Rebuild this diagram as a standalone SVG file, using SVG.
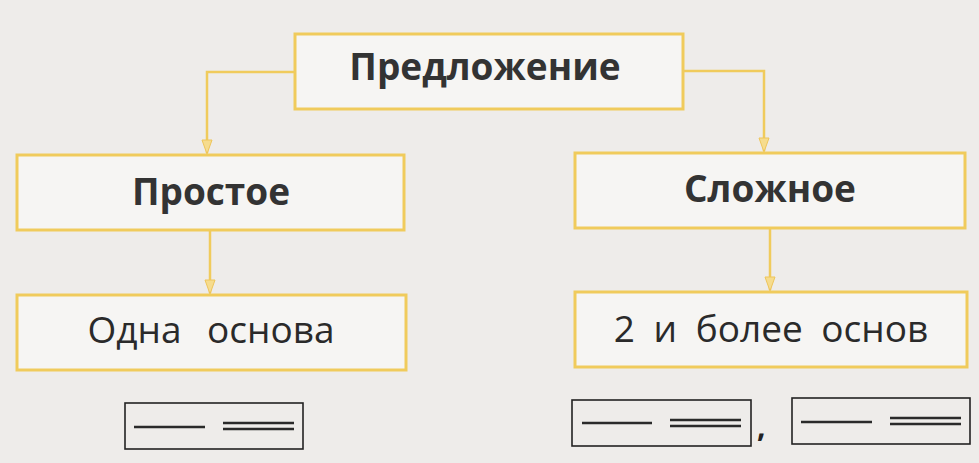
<svg xmlns="http://www.w3.org/2000/svg" width="979" height="463" viewBox="0 0 979 463">
<defs>
<marker id="arr" markerWidth="16" markerHeight="12" refX="14" refY="6" orient="auto" markerUnits="userSpaceOnUse" viewBox="0 0 16 12">
<path d="M1,1 L15,6 L1,11 Z" fill="#f6dc8e" stroke="#eec55a" stroke-width="1"/>
</marker>
<style>
.box{fill:#f6f5f3;stroke:#f0cb5c;stroke-width:3}
.con{fill:none;stroke:#f0cb5c;stroke-width:2.5}
.b{font-family:"Open Sans","Liberation Sans",sans-serif;font-weight:bold;fill:#333;text-anchor:middle}
.r{font-family:"Open Sans","Liberation Sans",sans-serif;fill:#2a2a2a;text-anchor:middle}
.sb{fill:none;stroke:#222;stroke-width:1.6}
.ln{stroke:#2a2a2a;stroke-width:2.4}
</style>
</defs>
<rect width="979" height="463" fill="#eeecea"/>
<g id="connectors">
<path class="con" d="M295,72 H207 V153" marker-end="url(#arr)"/>
<path class="con" d="M683,71 H764 V151" marker-end="url(#arr)"/>
<path class="con" d="M210,231 V293" marker-end="url(#arr)"/>
<path class="con" d="M770,229 V290" marker-end="url(#arr)"/>
</g>
<g id="n-predlozhenie">
<rect class="box" x="295" y="34" width="388" height="75"/>
<text class="b" x="485" y="80" font-size="37">Предложение</text>
</g>
<g id="n-prostoe">
<rect class="box" x="17" y="155" width="387" height="75"/>
<text class="b" x="211" y="205" font-size="37">Простое</text>
</g>
<g id="n-slozhnoe">
<rect class="box" x="575" y="153" width="390" height="75"/>
<text class="b" x="770" y="202" font-size="37">Сложное</text>
</g>
<g id="n-odna">
<rect class="box" x="17" y="295" width="389" height="75"/>
<text class="r" x="211" y="343" font-size="37" word-spacing="16">Одна основа</text>
</g>
<g id="n-dva">
<rect class="box" x="575" y="292" width="392" height="75"/>
<text class="r" x="771" y="342" font-size="37" word-spacing="9">2 и более основ</text>
</g>
<g id="scheme-left">
<rect class="sb" x="125" y="403" width="178" height="46" fill="#f2f0ee"/>
<line class="ln" x1="134" y1="427" x2="205" y2="427"/>
<line class="ln" x1="223" y1="423" x2="294" y2="423"/>
<line class="ln" x1="223" y1="429" x2="294" y2="429"/>
</g>
<g id="scheme-right">
<rect class="sb" x="572" y="400" width="179" height="46" fill="#f2f0ee"/>
<line class="ln" x1="582" y1="423" x2="652" y2="423"/>
<line class="ln" x1="670" y1="420" x2="741" y2="420"/>
<line class="ln" x1="670" y1="426" x2="741" y2="426"/>
<text x="757" y="437" font-family="Open Sans, Liberation Sans, sans-serif" font-weight="bold" font-size="30" fill="#222">,</text>
<rect class="sb" x="792" y="398" width="178" height="46" fill="#f2f0ee"/>
<line class="ln" x1="801" y1="422" x2="872" y2="422"/>
<line class="ln" x1="890" y1="418" x2="961" y2="418"/>
<line class="ln" x1="890" y1="424" x2="961" y2="424"/>
</g>
</svg>
